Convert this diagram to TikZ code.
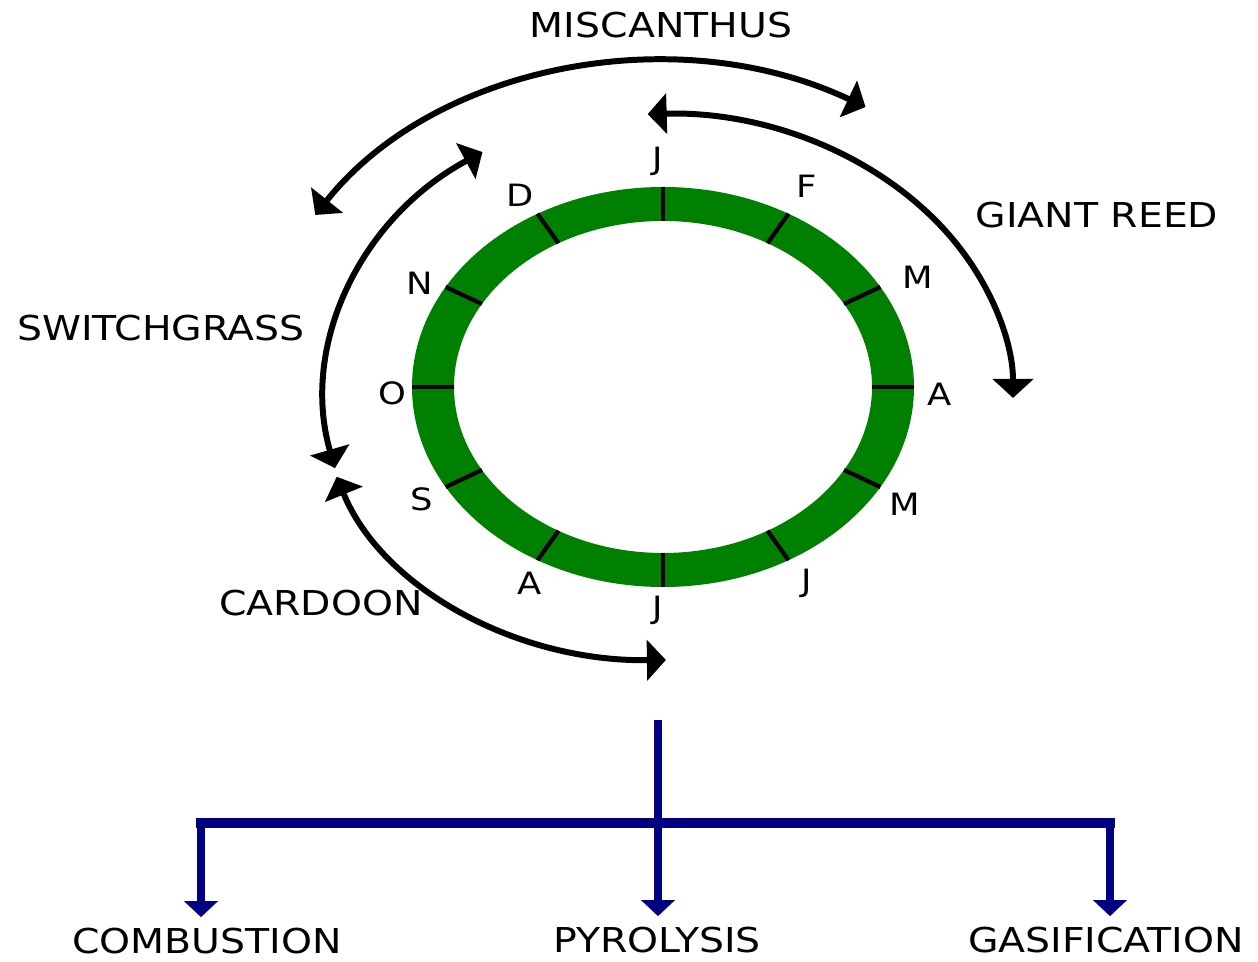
\documentclass[tikz,border=0pt]{standalone}
\usepackage{fontspec}
\newfontfamily\capsfont[FakeStretch=1.15]{DejaVu Sans}
\usetikzlibrary{arrows.meta,calc}

\definecolor{leafgreen}{RGB}{0,128,0}
\definecolor{routeblue}{RGB}{0,0,128}

\begin{document}
\begin{tikzpicture}[
    x=0.02cm, y=0.02cm,
    >={Triangle[length=3.8mm, width=8mm]},
    crop/.style   = {font=\capsfont\fontsize{19.5}{22}\selectfont, inner sep=0pt,
                     text height=14.2pt, text depth=0pt},
    month/.style  = {font=\capsfont\fontsize{17.5}{20}\selectfont, inner sep=0pt,
                     text height=12.8pt, text depth=0pt},
    season/.style = {<->, line width=3.4pt, line cap=butt},
    tickmark/.style = {line width=2.4pt},
    branch/.style = {routeblue, line width=4pt,
                     -{Triangle[length=3.2mm, width=6.6mm]}, shorten >=2.2mm},
    bar/.style    = {routeblue, line width=5.6pt, line cap=rect}
]
\useasboundingbox (0,0) rectangle (1258,962);

% --- Calendar ring ------------------------------------------------------------
\coordinate (ring) at (663,575);
\coordinate (hub)  at (660,564);
\fill[leafgreen, even odd rule]
  (ring) ellipse[x radius=251, y radius=200]
  (ring) ellipse[x radius=209, y radius=166];
\foreach \a in {0,30,...,330}
  \draw[tickmark] ($(ring)+(\a:209 and 166)$) -- ($(ring)+(\a:251 and 200)$);

% --- Month letters --------------------------------------------------------------
\foreach \m/\px/\py [count=\i] in {J/658/804, F/807/776, M/918/685, A/940/568,
    M/905/458, J/807/382, J/658/355, A/530/379, S/422/463, O/392/569,
    N/420/679, D/520/767}
  \node[month] (m\i) at (\px,\py) {\m};

% --- Crop labels -----------------------------------------------------------------
\node[crop] (misc)   at (661,937)  {MISCANTHUS};
\node[crop] (reed)   at (1097,747) {GIANT REED};
\node[crop] (switch) at (161,634)  {SWITCHGRASS};
\node[crop] (card)   at (321,359)  {CARDOON};

% --- Harvest windows ---------------------------------------------------------------
\draw[season] ($(hub)+(147:411 and 336)$)
  arc[start angle=147, end angle=60, x radius=411, y radius=336];
\draw[season] ($(hub)+(92:353 and 284)$)
  arc[start angle=92, end angle=0, x radius=353, y radius=284];
\draw[season] ($(hub)+(122:335 and 290)$)
  arc[start angle=122, end angle=194, x radius=335, y radius=290];
\draw[season] ($(hub)+(197.5:339 and 262)$)
  arc[start angle=197.5, end angle=271, x radius=339, y radius=262];

% --- Conversion routes ---------------------------------------------------------------
\node[crop] (comb) at (207,21)  {COMBUSTION};
\node[crop] (pyro) at (657,22)  {PYROLYSIS};
\node[crop] (gasi) at (1106,22) {GASIFICATION};

\coordinate (src)   at (658,242);
\coordinate (left)  at (201,139);
\coordinate (right) at (1110,139);

\draw[bar] (left) -- (right);
\draw[branch] (src)   -- (src |- pyro.north);
\draw[branch] (left)  -- (left |- comb.north);
\draw[branch] (right) -- (right |- gasi.north);

\end{tikzpicture}
\end{document}
